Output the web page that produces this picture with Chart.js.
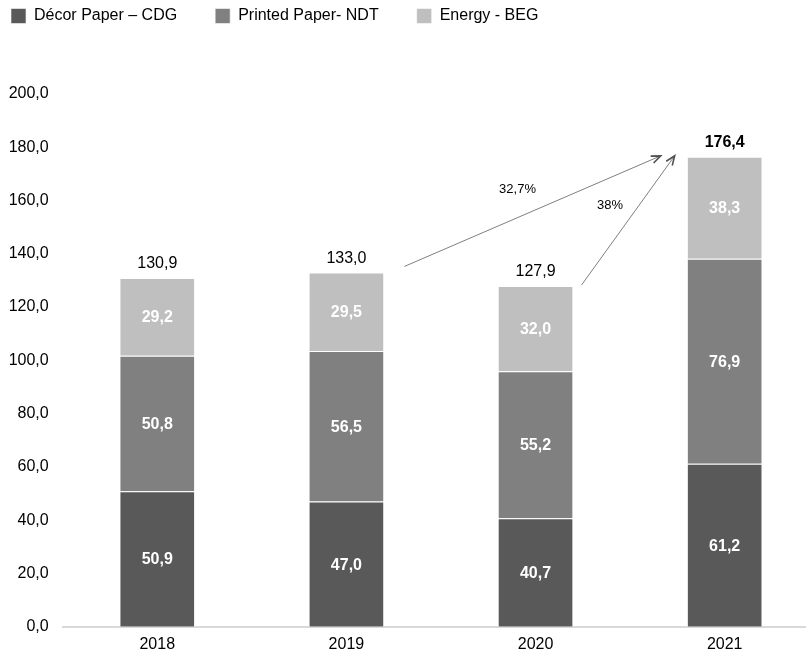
<!DOCTYPE html>
<html>
<head>
<meta charset="utf-8">
<script src="https://cdn.jsdelivr.net/npm/chart.js@4/dist/chart.umd.min.js"></script>
<style>
  html, body { margin: 0; padding: 0; background: #ffffff; overflow: hidden; }
  #wrap { width: 806px; height: 654px; }
</style>
</head>
<body>
<div id="wrap"><canvas id="c" width="806" height="654"></canvas></div>
<script>
// ---- data ----
const categories = ['2018', '2019', '2020', '2021'];
const seriesNames = ['Décor Paper – CDG', 'Printed Paper- NDT', 'Energy - BEG'];
const decorPaper = [50.9, 47.0, 40.7, 61.2];
const printedPaper = [50.8, 56.5, 55.2, 76.9];
const energy = [29.2, 29.5, 32.0, 38.3];
const yTicks = [0, 20, 40, 60, 80, 100, 120, 140, 160, 180, 200];
const growthFrom = [1, 2];
const growthTo = [3, 3];
const growthLabels = ['32,7%', '38%'];

// ---- styles ----
const colors = ['#595959', '#808080', '#bfbfbf'];
const FONT = "'Liberation Sans', Arial, Helvetica, sans-serif";
const arrowStyle = [
  { sdx: 58, sdy: -6, edx: -64, edy: -1, ldx: -15, ldy: -22 },
  { sdx: 46, sdy: -1, edx: -50, edy: -1, ldx: -18, ldy: -15 }
];

const fmt = v => v.toFixed(1).replace('.', ',');
const seriesValues = [decorPaper, printedPaper, energy];
const totals = categories.map((_, i) => seriesValues.reduce((s, arr) => s + arr[i], 0));

Chart.defaults.font.family = FONT;
Chart.defaults.font.size = 16;
Chart.defaults.color = '#000000';

const datasets = seriesValues.map((arr, k) => ({
  label: seriesNames[k],
  data: arr.map((v, i) => ({ x: i, y: v })),
  backgroundColor: colors[k],
  borderColor: 'rgba(255,255,255,0.55)',
  borderWidth: 1,
  borderSkipped: 'bottom',
  categoryPercentage: 0.8,
  barPercentage: 0.5
}));

const legendShift = {
  id: 'legendShift',
  beforeDraw(chart) {
    const lg = chart.legend;
    if (!lg) return;
    const pad = lg.options.labels.padding;
    lg.left = 11 - pad;
    lg.top = 16 - pad - 8;
  }
};

const annotations = {
  id: 'annotations',
  afterDatasetsDraw(chart) {
    const ctx = chart.ctx;
    const xs = chart.scales.x, ys = chart.scales.y;
    ctx.save();
    // segment labels
    ctx.textAlign = 'center';
    ctx.textBaseline = 'middle';
    ctx.fillStyle = '#ffffff';
    ctx.font = 'bold 16px ' + FONT;
    seriesValues.forEach((arr, k) => {
      const meta = chart.getDatasetMeta(k);
      meta.data.forEach((bar, i) => {
        ctx.fillText(fmt(arr[i]), bar.x, (bar.y + bar.base) / 2 + 1);
      });
    });
    // totals
    const topMeta = chart.getDatasetMeta(seriesValues.length - 1);
    topMeta.data.forEach((bar, i) => {
      ctx.fillStyle = '#000000';
      ctx.font = (i === categories.length - 1 ? 'bold ' : '') + '16px ' + FONT;
      ctx.fillText(fmt(totals[i]), bar.x, ys.getPixelForValue(totals[i]) - 14);
    });
    // growth arrows
    growthFrom.forEach((f, n) => {
      const t = growthTo[n];
      const st = arrowStyle[n];
      const x1 = xs.getPixelForValue(f) + st.sdx;
      const y1 = ys.getPixelForValue(totals[f]) + st.sdy;
      const x2 = xs.getPixelForValue(t) + st.edx;
      const y2 = ys.getPixelForValue(totals[t]) + st.edy;
      ctx.strokeStyle = '#707070';
      ctx.lineWidth = 0.9;
      ctx.beginPath();
      ctx.moveTo(x1, y1);
      ctx.lineTo(x2, y2);
      ctx.stroke();
      const ang = Math.atan2(y2 - y1, x2 - x1);
      const hl = 10, ha = 0.38;
      ctx.strokeStyle = '#505050';
      ctx.lineWidth = 1.6;
      ctx.beginPath();
      ctx.moveTo(x2 - hl * Math.cos(ang - ha), y2 - hl * Math.sin(ang - ha));
      ctx.lineTo(x2, y2);
      ctx.lineTo(x2 - hl * Math.cos(ang + ha), y2 - hl * Math.sin(ang + ha));
      ctx.stroke();
      ctx.fillStyle = '#000000';
      ctx.font = '13px ' + FONT;
      ctx.fillText(growthLabels[n], (x1 + x2) / 2 + st.ldx, (y1 + y2) / 2 + st.ldy);
    });
    ctx.restore();
  }
};

new Chart(document.getElementById('c'), {
  type: 'bar',
  data: { datasets },
  options: {
    responsive: false,
    animation: false,
    devicePixelRatio: 1,
    layout: { padding: { left: 9, right: 0, top: 30, bottom: 0 } },
    plugins: {
      legend: {
        position: 'top',
        align: 'start',
        labels: {
          boxWidth: 15,
          boxHeight: 15,
          padding: 38,
          color: '#000000',
          font: { size: 16, family: FONT }
        }
      },
      tooltip: { enabled: false }
    },
    scales: {
      x: {
        type: 'linear',
        stacked: true,
        offset: false,
        min: -0.5,
        max: 3.43,
        grid: { display: false, drawTicks: false },
        border: { display: true, color: '#d9d9d9', width: 2 },
        afterFit: s => { s.height = 27.3; },
        afterBuildTicks: s => { s.ticks = categories.map((_, i) => ({ value: i })); },
        ticks: {
          padding: 8,
          color: '#000000',
          font: { size: 16, family: FONT },
          maxRotation: 0,
          autoSkip: false,
          callback: v => categories[v]
        }
      },
      y: {
        stacked: true,
        min: 0,
        max: 200,
        grid: { display: false, drawTicks: false },
        border: { display: false },
        afterFit: s => { s.width = 53.7; },
        afterBuildTicks: s => { s.ticks = yTicks.map(v => ({ value: v })); },
        ticks: {
          padding: 14,
          color: '#000000',
          font: { size: 16, family: FONT },
          callback: v => fmt(v)
        }
      }
    }
  },
  plugins: [legendShift, annotations]
});
</script>
</body>
</html>
